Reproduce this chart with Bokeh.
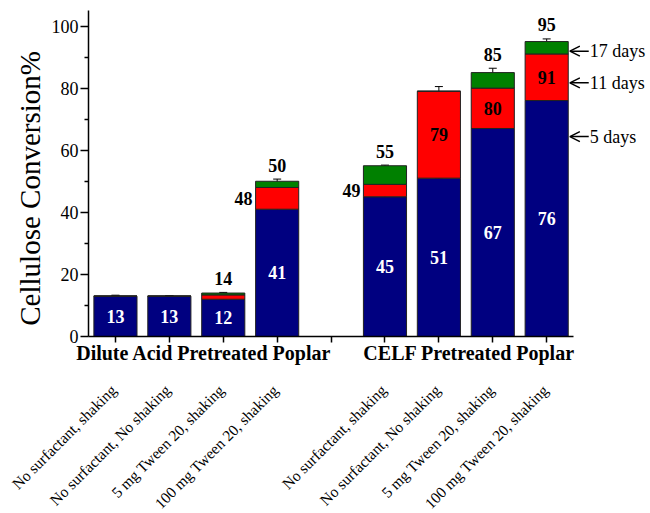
import math
from bokeh.plotting import figure
from bokeh.layouts import column, row
from bokeh.models import (ColumnDataSource, FixedTicker, Whisker, TeeHead, Arrow,
                          OpenHead, Range1d)
from bokeh.core.properties import value
from bokeh.embed import file_html
from bokeh.resources import INLINE

# ---- data -------------------------------------------------------------
groups = ["Dilute Acid Pretreated Poplar", "CELF Pretreated Poplar"]
conditions = ["No surfactant, shaking", "No surfactant, No shaking",
              "5 mg Tween 20, shaking", "100 mg Tween 20, shaking"]
# x slot of every bar; slot 5 is left empty between the two pretreatments
positions = [1, 2, 3, 4, 6, 7, 8, 9]
# cellulose conversion (%) reached after 5, 11 and 17 days
conv_5d = [13, 13, 12, 41, 45, 51, 67, 76]
conv_11d = [13, 13, 13.4, 48, 49, 79, 80, 91]
conv_17d = [13, 13, 14, 50, 55, 79, 85, 95]
err_5d = [0.2, 0.2, 0.3, 1.0, 3.5, 0.3, 0.4, 0.5]
err_11d = [0.0, 0.0, 0.3, 1.3, 0.5, 1.5, 2.0, 0.75]
err_17d = [0.3, 0.2, 0.2, 0.7, 0.2, 0.0, 1.4, 0.85]
day_names = ["5 days", "11 days", "17 days"]
y_title = "Cellulose Conversion%"

# ---- layout / style ---------------------------------------------------
FONT = "Liberation Serif"
W, H = 650, 513
PX_PER_SLOT = 54
LEFT = 87               # x pixel of the y axis
TITLE_W = 48            # strip holding the y-axis title
MAIN_H = 372            # chart incl. the pretreatment row
BAR_W = 0.8
C5, C11, C17 = "#000080", "#ff0000", "#008000"
EDGE = "#222222"
GROUP_CENTRES = [2.64, 7.56]
VAL_SIZE = "18px"

x_range = Range1d(0.5, 0.5 + (W - LEFT) / PX_PER_SLOT)
p = figure(width=W - TITLE_W, height=MAIN_H, output_backend="svg",
           toolbar_location=None, x_range=x_range, y_range=Range1d(0, 105),
           min_border_left=LEFT - TITLE_W, min_border_right=0,
           min_border_top=10, min_border_bottom=36)
p.outline_line_color = None
p.xgrid.visible = False
p.ygrid.visible = False

# y axis
p.yaxis.ticker = FixedTicker(ticks=[0, 20, 40, 60, 80, 100],
                             minor_ticks=[10, 30, 50, 70, 90])
p.yaxis.major_label_text_font = FONT
p.yaxis.major_label_text_font_size = "18px"
p.yaxis.major_label_text_color = "black"
p.yaxis.major_label_standoff = 2
p.yaxis.major_tick_out = 8
p.yaxis.major_tick_in = 0
p.yaxis.minor_tick_out = 4
p.yaxis.minor_tick_in = 0
p.yaxis.axis_line_width = 1.5
p.yaxis.major_tick_line_width = 1.5
p.yaxis.minor_tick_line_width = 1.5
p.yaxis.axis_line_color = "black"
p.yaxis.major_tick_line_color = "black"
p.yaxis.minor_tick_line_color = "black"

# x axis: tick marks at every slot, pretreatment names as the labels
xa = p.xaxis[0]
xa.ticker = FixedTicker(ticks=GROUP_CENTRES, minor_ticks=list(range(1, 10)))
xa.major_label_overrides = {c: g for c, g in zip(GROUP_CENTRES, groups)}
xa.major_label_text_font = FONT
xa.major_label_text_font_size = "20px"
xa.major_label_text_font_style = "bold"
xa.major_label_text_color = "black"
xa.major_label_standoff = -1
xa.major_tick_out = 0
xa.major_tick_in = 0
xa.minor_tick_out = 6
xa.minor_tick_in = 0
xa.minor_tick_line_width = 1.5
xa.minor_tick_line_color = "black"
xa.axis_line_width = 1.5
xa.axis_line_color = "black"
xa.bounds = (0.5, 9.5)

# ---- overlaid bars ----------------------------------------------------
src = ColumnDataSource(dict(x=positions, d5=conv_5d, d11=conv_11d, d17=conv_17d,
                            zero=[0] * len(positions)))
p.vbar(x="x", width=BAR_W, bottom="zero", top="d5", source=src,
       fill_color=C5, line_color=EDGE, line_width=1)
p.vbar(x="x", width=BAR_W, bottom="d5", top="d11", source=src,
       fill_color=C11, line_color=EDGE, line_width=1)
p.vbar(x="x", width=BAR_W, bottom="d11", top="d17", source=src,
       fill_color=C17, line_color=EDGE, line_width=1)

# ---- error bars -------------------------------------------------------
wx, wlo, whi = [], [], []
for vals, errs in ((conv_5d, err_5d), (conv_11d, err_11d), (conv_17d, err_17d)):
    for x, v, e in zip(positions, vals, errs):
        if e > 0:
            wx.append(x)
            wlo.append(v - e)
            whi.append(v + e)
wsrc = ColumnDataSource(dict(base=wx, lower=wlo, upper=whi))
p.add_layout(Whisker(base="base", lower="lower", upper="upper", source=wsrc,
                     dimension="height", line_color="black", line_width=1,
                     upper_head=TeeHead(size=8, line_color="black", line_width=1),
                     lower_head=TeeHead(size=8, line_color="black", line_width=1)))

# ---- value labels -----------------------------------------------------
# 5-day values, white, in the middle of the blue part
lab5 = ColumnDataSource(dict(x=positions, y=[v / 2 for v in conv_5d],
                             t=[f"{v:g}" for v in conv_5d]))
p.text(x="x", y="y", text="t", source=lab5, text_color="white",
       text_font=value(FONT), text_font_size=VAL_SIZE, text_font_style="bold",
       text_align="center", text_baseline="middle")

# 11-day values: inside the red part when it is tall enough, else to its left
in_x, in_y, in_t, out_x, out_y, out_t = [], [], [], [], [], []
for x, a, b in zip(positions, conv_5d, conv_11d):
    gain = b - a
    if gain < 3:
        continue
    mid = (a + b) / 2
    if gain >= 8:
        in_x.append(x); in_y.append(mid); in_t.append(f"{b:g}")
    else:
        out_x.append(x - BAR_W / 2); out_y.append(mid); out_t.append(f"{b:g}")
p.text(x=in_x, y=in_y, text=in_t, text_color="black", text_font=value(FONT),
       text_font_size=VAL_SIZE, text_font_style="bold",
       text_align="center", text_baseline="middle")
p.text(x=out_x, y=out_y, text=out_t, text_color="black", text_font=value(FONT),
       text_font_size=VAL_SIZE, text_font_style="bold",
       text_align="right", text_baseline="middle", x_offset=-3)

# 17-day values above the bars
top_x, top_y, top_t = [], [], []
for x, b, c, e in zip(positions, conv_11d, conv_17d, err_17d):
    if c > b:
        top_x.append(x); top_y.append(c + e); top_t.append(f"{c:g}")
p.text(x=top_x, y=top_y, text=top_t, text_color="black", text_font=value(FONT),
       text_font_size=VAL_SIZE, text_font_style="bold",
       text_align="center", text_baseline="alphabetic", y_offset=-14)

# ---- day call-outs on the right ---------------------------------------
callout_y = {"17 days": 91.9, "11 days": 81.7, "5 days": 64.4}
for name in day_names:
    y = callout_y[name]
    p.add_layout(Arrow(x_start=9.78, y_start=y, x_end=9.43, y_end=y,
                       line_color="black", line_width=1.5,
                       end=OpenHead(size=10, line_color="black", line_width=1.5)))
    p.text(x=[9.80], y=[y], text=[name], text_color="black",
           text_font=value(FONT), text_font_size="18px",
           text_align="left", text_baseline="middle")

# ---- y-axis title strip -----------------------------------------------
t = figure(width=TITLE_W, height=MAIN_H, output_backend="svg", toolbar_location=None,
           x_range=Range1d(0, TITLE_W), y_range=Range1d(0, MAIN_H),
           x_axis_type=None, y_axis_type=None, min_border=0)
t.outline_line_color = None
t.text(x=[29], y=[MAIN_H - 203], text=[y_title], angle=math.pi / 2,
       text_align="center", text_baseline="middle", text_color="black",
       text_font=value(FONT), text_font_size="29px")

# ---- slanted treatment names under the chart --------------------------
strip_h = H - MAIN_H
q = figure(width=W, height=strip_h, output_backend="svg", toolbar_location=None,
           x_range=Range1d(0.5 - LEFT / PX_PER_SLOT, x_range.end),
           y_range=Range1d(0, strip_h),
           x_axis_type=None, y_axis_type=None, min_border=0)
q.outline_line_color = None
# anchor: right end of each name, 15 px below the top of this strip
q.text(x=positions, y=[strip_h - 15] * len(positions), text=conditions * 2,
       angle=math.pi / 4, text_align="right", text_baseline="middle",
       text_font=value(FONT), text_font_size="15.5px", text_color="black",
       x_offset=-1)

layout = column(row(t, p, spacing=0), q, spacing=0)
open("out.html", "w").write(file_html(layout, INLINE))
